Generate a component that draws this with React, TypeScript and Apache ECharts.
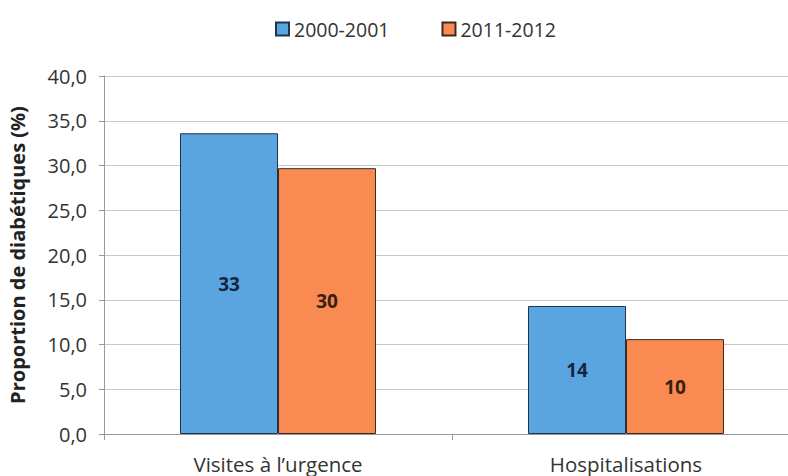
import React, { useEffect, useRef } from "react";
import * as echarts from "echarts";

const categories = ["Visites à l’urgence", "Hospitalisations"];
const seriesNames = ["2000-2001", "2011-2012"];
const values2000 = [33.6, 14.3];
const values2011 = [29.7, 10.6];
const labels2000 = ["33", "14"];
const labels2011 = ["30", "10"];
const yTicks = [0, 5, 10, 15, 20, 25, 30, 35, 40];

const FONT = "'Open Sans', sans-serif";

export default function App() {
  const ref = useRef<HTMLDivElement>(null);
  useEffect(() => {
    document.body.style.margin = "0";
    document.body.style.overflow = "hidden";
    const chart = echarts.init(ref.current!, null, { renderer: "svg" });
    chart.setOption({
      animation: false,
      backgroundColor: "#ffffff",
      textStyle: { fontFamily: FONT },
      legend: {
        top: 14,
        left: 270,
        itemWidth: 13,
        itemHeight: 13,
        itemGap: 52,
        icon: "rect",
        textStyle: { fontSize: 19.5, color: "#333333", fontFamily: FONT },
        data: seriesNames,
      },
      grid: {
        left: 104,
        width: 696,
        top: 76,
        bottom: 42,
        containLabel: false,
        outerBoundsMode: "none",
      },
      xAxis: {
        type: "category",
        data: categories,
        axisLine: { lineStyle: { color: "#999999" } },
        axisTick: { show: true, length: 6, lineStyle: { color: "#999999" } },
        axisLabel: { fontSize: 20.5, color: "#333333", margin: 19, fontFamily: FONT },
      },
      yAxis: {
        type: "value",
        min: yTicks[0],
        max: yTicks[yTicks.length - 1],
        interval: 5,
        name: "Proportion de diabétiques (%)",
        nameLocation: "middle",
        nameGap: 77,
        nameTextStyle: { fontSize: 20, fontWeight: "bold", color: "#222222", fontFamily: FONT },
        axisLine: { show: true, lineStyle: { color: "#999999" } },
        axisTick: { show: true, length: 5, lineStyle: { color: "#999999" } },
        axisLabel: {
          fontSize: 20,
          color: "#333333",
          margin: 17,
          fontFamily: FONT,
          formatter: (v: number) => v.toFixed(1).replace(".", ","),
        },
        splitLine: { lineStyle: { color: "#c8c8c8" } },
      },
      series: [
        {
          name: seriesNames[0],
          type: "bar",
          data: values2000,
          barWidth: 98,
          barGap: "0%",
          itemStyle: { color: "#5aa5df", borderColor: "#1d3550", borderWidth: 1 },
          label: {
            show: true,
            position: "inside",
            fontSize: 19,
            fontWeight: "bold",
            color: "#14263f",
            fontFamily: FONT,
            formatter: (p: any) => labels2000[p.dataIndex],
          },
        },
        {
          name: seriesNames[1],
          type: "bar",
          data: values2011,
          barWidth: 98,
          barGap: "0%",
          itemStyle: { color: "#f88a52", borderColor: "#3d2a1f", borderWidth: 1 },
          label: {
            show: true,
            position: "inside",
            fontSize: 19,
            fontWeight: "bold",
            color: "#3a1f10",
            fontFamily: FONT,
            formatter: (p: any) => labels2011[p.dataIndex],
          },
        },
      ],
    });
    return () => chart.dispose();
  }, []);
  return <div ref={ref} style={{ width: 788, height: 476 }} />;
}
